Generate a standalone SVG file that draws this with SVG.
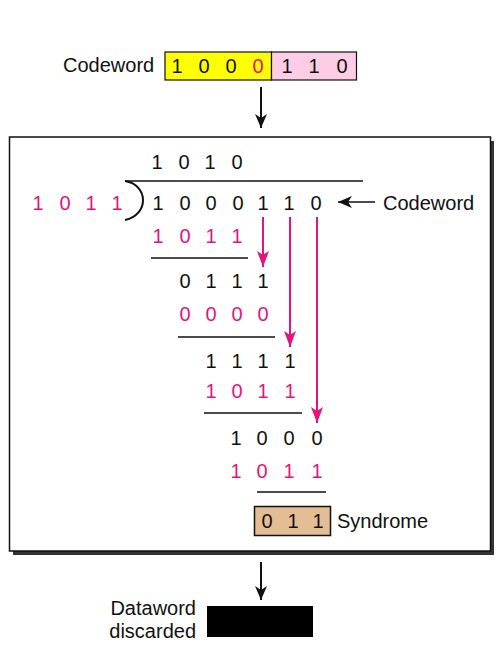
<svg xmlns="http://www.w3.org/2000/svg" width="503" height="652" viewBox="0 0 503 652">
<style>
text{font-family:"Liberation Sans","Open Sans",Arial,sans-serif;font-size:20px;fill:#111}
.d{text-anchor:middle}
.e{text-anchor:end}
.p{fill:#E8137A}
.ln{stroke:#111;stroke-width:1.5;fill:none}
.pa{stroke:#E8137A;stroke-width:2;fill:none}
</style>
<defs>
<marker id="ahb" viewBox="0 0 14 12" refX="14" refY="6" markerWidth="14" markerHeight="12" markerUnits="userSpaceOnUse" orient="auto"><path d="M0,0 L14,6 L0,12 L4,6 Z" fill="#111"/></marker>
<marker id="ap" viewBox="0 0 16 12" refX="16" refY="6" markerWidth="16" markerHeight="12" markerUnits="userSpaceOnUse" orient="auto"><path d="M0,0 L16,6 L0,12 L4,6 Z" fill="#E8137A"/></marker>
</defs>

<g id="codeword-top">
<text x="63" y="72">Codeword</text>
<rect x="165" y="52" width="106.5" height="28" fill="#FFFF00" stroke="#111" stroke-width="1.2"/>
<rect x="271.5" y="52" width="85" height="28" fill="#FCCDE5" stroke="#111" stroke-width="1.2"/>
<text class="d" x="177" y="73">1</text><text class="d" x="204" y="73">0</text><text class="d" x="231" y="73">0</text><text class="d p" x="258" y="73">0</text>
<text class="d" x="287" y="73">1</text><text class="d" x="314" y="73">1</text><text class="d" x="342" y="73">0</text>
</g>

<g id="division-box">
<rect x="13" y="141" width="481" height="414" fill="#333"/>
<rect x="9.5" y="137" width="481" height="414" fill="#fff" stroke="#111" stroke-width="1.5"/>
</g>

<g id="division">
<text class="d" x="157" y="169">1</text><text class="d" x="184" y="169">0</text><text class="d" x="210" y="169">1</text><text class="d" x="237" y="169">0</text>
<line class="ln" x1="125" y1="181" x2="363" y2="181" stroke-width="2"/>
<path d="M125,181 C149,185 149,215 125,220" stroke="#111" stroke-width="2" fill="none"/>
<text class="d p" x="38" y="210">1</text><text class="d p" x="65" y="210">0</text><text class="d p" x="91" y="210">1</text><text class="d p" x="117" y="210">1</text>
<text class="d" x="158" y="210">1</text><text class="d" x="185" y="210">0</text><text class="d" x="211" y="210">0</text><text class="d" x="238" y="210">0</text><text class="d" x="263" y="210">1</text><text class="d" x="289" y="210">1</text><text class="d" x="316" y="210">0</text>
<text x="383" y="210">Codeword</text>

<text class="d p" x="158" y="243">1</text><text class="d p" x="185" y="243">0</text><text class="d p" x="211" y="243">1</text><text class="d p" x="237" y="243">1</text>
<line class="ln" x1="151" y1="258" x2="248" y2="258"/>
<text class="d" x="185" y="288">0</text><text class="d" x="211" y="288">1</text><text class="d" x="237" y="288">1</text><text class="d" x="263" y="288">1</text>
<text class="d p" x="185" y="321">0</text><text class="d p" x="211" y="321">0</text><text class="d p" x="237" y="321">0</text><text class="d p" x="263" y="321">0</text>
<line class="ln" x1="178" y1="337" x2="275" y2="337"/>
<text class="d" x="211" y="368">1</text><text class="d" x="237" y="368">1</text><text class="d" x="263" y="368">1</text><text class="d" x="290" y="368">1</text>
<text class="d p" x="211" y="398">1</text><text class="d p" x="237" y="398">0</text><text class="d p" x="263" y="398">1</text><text class="d p" x="290" y="398">1</text>
<line class="ln" x1="204" y1="413" x2="302" y2="413"/>
<text class="d" x="236" y="445">1</text><text class="d" x="262" y="445">0</text><text class="d" x="289" y="445">0</text><text class="d" x="317" y="445">0</text>
<text class="d p" x="236" y="478">1</text><text class="d p" x="262" y="478">0</text><text class="d p" x="289" y="478">1</text><text class="d p" x="317" y="478">1</text>
<line class="ln" x1="257" y1="492" x2="326" y2="492"/>
</g>

<g id="syndrome">
<rect x="254.5" y="506.5" width="76" height="29" fill="#E3BD94" stroke="#111" stroke-width="1.5"/>
<text class="d" x="267" y="528">0</text><text class="d" x="293" y="528">1</text><text class="d" x="318" y="528">1</text>
<text x="337" y="528">Syndrome</text>
</g>

<g id="dataword">
<text class="e" x="196" y="615">Dataword</text>
<text class="e" x="196" y="638">discarded</text>
<rect x="207" y="606" width="106" height="31" fill="#000"/>
</g>

<g id="connectors">
<line x1="261" y1="87" x2="261" y2="128" stroke="#111" stroke-width="2" marker-end="url(#ahb)"/>
<line x1="375" y1="202" x2="338" y2="202" stroke="#111" stroke-width="1.5" marker-end="url(#ahb)"/>
<line class="pa" x1="263" y1="217" x2="263" y2="267" marker-end="url(#ap)"/>
<line class="pa" x1="290" y1="217" x2="290" y2="347" marker-end="url(#ap)"/>
<line class="pa" x1="317" y1="217" x2="317" y2="423" marker-end="url(#ap)"/>
<line x1="261" y1="562" x2="261" y2="600" stroke="#111" stroke-width="2" marker-end="url(#ahb)"/>
</g>
</svg>
